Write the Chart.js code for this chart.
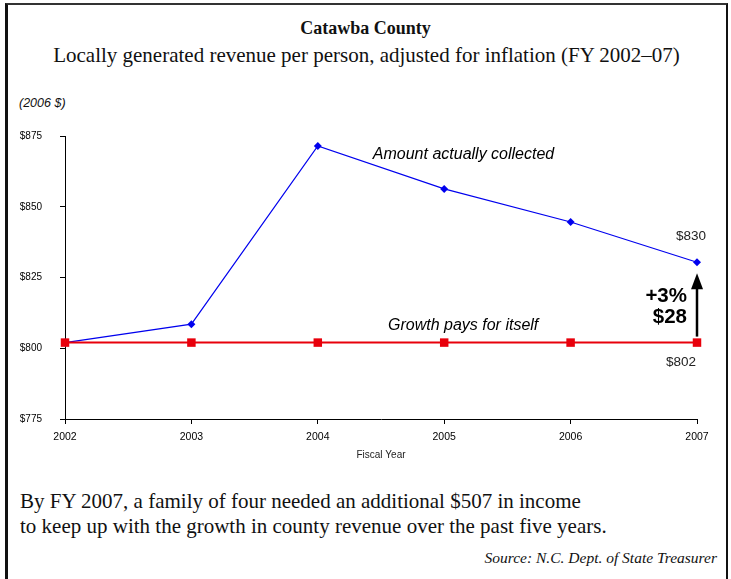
<!DOCTYPE html>
<html>
<head>
<meta charset="utf-8">
<script src="https://cdn.jsdelivr.net/npm/chart.js@4.4.1/dist/chart.umd.min.js"></script>
<style>
  body { margin: 0; background: #fff; }
  #page { position: relative; width: 731px; height: 579px; overflow: hidden; }
  #frame { position: absolute; left: 5px; top: 3px; width: 718px; height: 590px;
           border-left: 3px solid #111; border-top: 2px solid #333; border-right: 2px solid #111; }
  .txt { position: absolute; white-space: nowrap; color: #111; font-family: "Liberation Serif", "Times New Roman", serif; }
  #title { top: 17px; left: 0; width: 731px; text-align: center; font-size: 18px; font-weight: bold; line-height: 22px; }
  #subtitle { top: 43px; left: 0; width: 733px; text-align: center; font-size: 21px; line-height: 24px; }
  #note1 { top: 489px; left: 20px; font-size: 21px; line-height: 24px; }
  #note2 { top: 514px; left: 20px; font-size: 21px; line-height: 24px; }
  #source { top: 549px; right: 14px; font-size: 15.5px; font-style: italic; line-height: 18px; }
  #unit { top: 95px; left: 19px; font-size: 12.5px; font-style: italic; line-height: 16px;
          font-family: "Liberation Sans", Arial, sans-serif; }
  canvas { position: absolute; left: 0; top: 0; }
</style>
</head>
<body>
<div id="page">
  <div id="frame"></div>
  <div class="txt" id="title">Catawba County</div>
  <div class="txt" id="subtitle">Locally generated revenue per person, adjusted for inflation (FY 2002–07)</div>
  <div class="txt" id="unit">(2006 $)</div>
  <div class="txt" id="note1">By FY 2007, a family of four needed an additional $507 in income</div>
  <div class="txt" id="note2">to keep up with the growth in county revenue over the past five years.</div>
  <div class="txt" id="source">Source: N.C. Dept. of State Treasurer</div>
  <canvas id="chart" width="731" height="579"></canvas>
</div>
<script>
// Datos
const years = ['2002', '2003', '2004', '2005', '2006', '2007'];
const collected = [802, 808.5, 871.5, 856.3, 844.6, 830.4];
const growthPays = [802, 802, 802, 802, 802, 802];
const yTicks = [775, 800, 825, 850, 875];

const sansFont = '"Liberation Sans", Arial, sans-serif';

// Anotaciones dibujadas con las escalas del gráfico
const notes = {
    id: 'notes',
    afterDatasetsDraw(chart) {
        const ctx = chart.ctx;
        const x = chart.scales.x;
        const y = chart.scales.y;
        const last = years.length - 1;
        const xEnd = x.getPixelForValue(last);
        const yTop = y.getPixelForValue(collected[last]);
        const yBase = y.getPixelForValue(growthPays[last]);
        const area = chart.chartArea;

        ctx.save();
        ctx.fillStyle = '#000';
        ctx.textBaseline = 'middle';

        // etiquetas de series
        ctx.font = 'italic 16px ' + sansFont;
        ctx.textAlign = 'left';
        ctx.fillText('Amount actually collected', x.getPixelForValue(2) + 55, y.getPixelForValue(collected[2]) + 9);
        ctx.textAlign = 'center';
        ctx.fillText('Growth pays for itself', x.getPixelForValue(3.15), yBase - 17);

        // valores finales
        ctx.font = '13.5px ' + sansFont;
        ctx.fillStyle = '#222';
        ctx.fillText('$' + Math.round(collected[last]), xEnd - 6, yTop - 26);
        ctx.fillText('$' + growthPays[last], xEnd - 16, yBase + 20);

        // diferencia
        const diff = Math.round(collected[last]) - growthPays[last];
        const pct = Math.round(diff / growthPays[last] * 100);
        ctx.fillStyle = '#000';
        ctx.font = 'bold 20.5px ' + sansFont;
        ctx.textAlign = 'right';
        ctx.fillText('+' + pct + '%', xEnd - 10, yTop + 34);
        ctx.fillText('$' + diff, xEnd - 10, yTop + 55);

        // flecha
        ctx.strokeStyle = '#000';
        ctx.lineWidth = 2.5;
        ctx.beginPath();
        ctx.moveTo(xEnd, yBase - 6);
        ctx.lineTo(xEnd, yTop + 24);
        ctx.stroke();
        ctx.beginPath();
        ctx.moveTo(xEnd, yTop + 11);
        ctx.lineTo(xEnd - 6, yTop + 27);
        ctx.lineTo(xEnd + 6, yTop + 27);
        ctx.closePath();
        ctx.fill();

        // título del eje x
        ctx.font = '10px ' + sansFont;
        ctx.fillStyle = '#222';
        ctx.textAlign = 'center';
        ctx.fillText('Fiscal Year', (area.left + area.right) / 2, area.bottom + 36);
        ctx.restore();
    }
};

const ctx = document.getElementById('chart').getContext('2d');
const chart = new Chart(ctx, {
    type: 'line',
    data: {
        labels: years,
        datasets: [{
            label: 'Growth pays for itself',
            data: growthPays,
            borderColor: '#e8000b',
            backgroundColor: '#e8000b',
            borderWidth: 2,
            pointStyle: 'rect',
            pointRadius: 6,
            pointBorderWidth: 0,
            tension: 0,
        }, {
            label: 'Amount actually collected',
            data: collected,
            borderColor: '#0000ee',
            backgroundColor: '#0000ee',
            borderWidth: 1.2,
            pointStyle: 'rectRot',
            pointRadius: 4,
            pointBorderWidth: 0,
            tension: 0,
        }],
    },
    options: {
        responsive: false,
        animation: false,
        devicePixelRatio: 1,
        layout: { padding: { left: 0, top: 136, right: 34, bottom: 120 } },
        plugins: { legend: { display: false }, tooltip: { enabled: false } },
        scales: {
            x: {
                type: 'category',
                offset: false,
                afterFit: s => { s.height = 40; },
                grid: { drawOnChartArea: false, drawTicks: true, tickLength: 5, color: '#000' },
                border: { color: '#000', width: 1 },
                ticks: { color: '#000', padding: 7, font: { family: sansFont, size: 10.5 } },
            },
            y: {
                min: yTicks[0],
                max: yTicks[yTicks.length - 1],
                afterFit: s => { s.width = 65; },
                afterBuildTicks: s => { s.ticks = yTicks.map(v => ({ value: v })); },
                grid: { drawOnChartArea: false, drawTicks: true, tickLength: 5, color: '#000' },
                border: { color: '#000', width: 1 },
                ticks: {
                    color: '#000', padding: 18,
                    font: { family: sansFont, size: 10 },
                    callback: v => '$' + v,
                },
            },
        },
    },
    plugins: [notes],
});
</script>
</body>
</html>
